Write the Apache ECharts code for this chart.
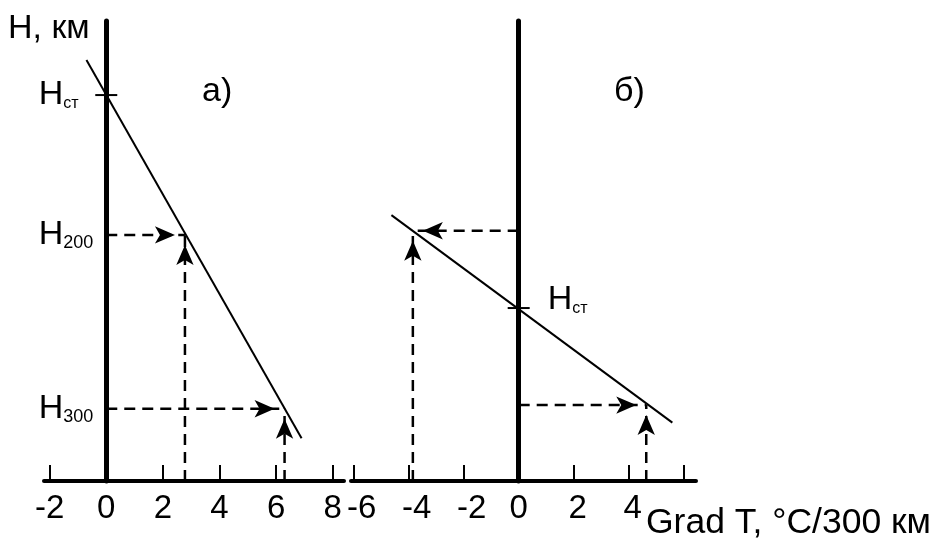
<!DOCTYPE html>
<html>
<head>
<meta charset="utf-8">
<script src="https://cdn.jsdelivr.net/npm/echarts@6/dist/echarts.min.js"></script>
<style>
  html, body { margin: 0; padding: 0; background: #fff; }
  #chart { width: 937px; height: 540px; }
</style>
</head>
<body>
<div id="chart"></div>
<script>
// Panel а): the height/gradient line and its reading points
const lineA = [[-0.70, 9.15], [6.90, 0.93]];
const hStA = 8.39;
const h200A = [2.78, 5.35];
const h300A = [6.30, 1.57];

// Panel б)
const lineB = [[-4.63, 5.78], [5.59, 1.27]];
const hStB = 3.76;
const upperB = [-3.85, 5.44];
const lowerB = [4.64, 1.65];

// Axis ticks and labels
const ticksA = [-2, 0, 2, 4, 6, 8];
const ticksB = [-6, -4, -2, 0, 2, 4, 6];
const labelsB = [-6, -4, -2, 0, 2, 4];
const levelValuesA = [hStA, h200A[1], h300A[1]];
const levelSubsA = ['ст', '200', '300'];

const FONT = '"Liberation Sans", Arial, sans-serif';
const BLACK = '#000';

const rich = {
  h:  { fontSize: 34, lineHeight: 34, fontFamily: FONT, color: BLACK },
  st: { fontSize: 16, lineHeight: 10, verticalAlign: 'bottom', fontFamily: FONT, color: BLACK },
  n:  { fontSize: 18, lineHeight: 8, verticalAlign: 'bottom', fontFamily: FONT, color: BLACK }
};

// Arrow head sits with its tip exactly on the end point
const ARW = 13, ARH = 20;
const arrowDirs = {
  right: { rot: -90, off: [-ARH / 2, 0] },
  left:  { rot: 90,  off: [ARH / 2, 0] },
  up:    { rot: 0,   off: [0, ARH / 2] }
};

function dashedArrow(from, to, dir, idx) {
  const d = arrowDirs[dir];
  return {
    type: 'line',
    xAxisIndex: idx, yAxisIndex: idx,
    data: [
      { value: from, symbol: 'none' },
      { value: to, symbolRotate: d.rot, symbolOffset: d.off }
    ],
    symbol: 'arrow',
    symbolSize: [ARW, ARH],
    showSymbol: true,
    lineStyle: { color: BLACK, width: 2.5, type: [11, 7] },
    itemStyle: { color: BLACK, opacity: 1 },
    silent: true,
    clip: false,
    z: 4
  };
}

function slopeLine(data, idx) {
  return {
    type: 'line', xAxisIndex: idx, yAxisIndex: idx,
    data: data, symbol: 'none',
    lineStyle: { color: BLACK, width: 2 },
    silent: true, clip: false, z: 3
  };
}

function crossTick(y, idx) {
  return {
    type: 'scatter', xAxisIndex: idx, yAxisIndex: idx,
    data: [[0, y]], symbol: 'rect', symbolSize: [22, 2],
    itemStyle: { color: BLACK, opacity: 1 }, silent: true, z: 5
  };
}

// Height level names (H with subscript) placed beside the vertical axis
function levelLabels(points, idx, position, align, distance, offset) {
  return {
    type: 'scatter', xAxisIndex: idx, yAxisIndex: idx,
    data: points.map(p => ({ value: [0, p.y], name: p.sub })),
    symbolSize: 1,
    itemStyle: { color: 'rgba(0,0,0,0)', opacity: 1 },
    silent: true, z: 6,
    label: {
      show: true, position: position, align: align,
      distance: distance, offset: offset, color: BLACK, opacity: 1,
      formatter: p => '{h|H}{' + (p.name === 'ст' ? 'st' : 'n') + '|' + p.name + '}',
      rich: rich
    }
  };
}

function xAxisCfg(idx, min, max, ticks, labels, labelFormatter, labelRich) {
  return {
    type: 'value', gridIndex: idx, min: min, max: max,
    axisLine: { onZero: false, lineStyle: { color: BLACK, width: 4 } },
    axisTick: { show: true, inside: true, length: 16, customValues: ticks,
                lineStyle: { color: BLACK, width: 2 } },
    axisLabel: { show: true, customValues: labels, margin: 11,
                 fontSize: 33, fontFamily: FONT, color: BLACK,
                 formatter: labelFormatter, rich: labelRich },
    splitLine: { show: false }
  };
}

function yAxisCfg(idx) {
  return {
    type: 'value', gridIndex: idx, min: 0, max: 10,
    axisLine: { onZero: true, lineStyle: { color: BLACK, width: 5 } },
    axisTick: { show: false },
    axisLabel: { show: false },
    splitLine: { show: false }
  };
}

// Right-panel tick numbers sit a little right of their ticks
const tickRichB = {
  neg:  { fontSize: 33, fontFamily: FONT, color: BLACK, padding: [0, 0, 0, 16] },
  pos:  { fontSize: 33, fontFamily: FONT, color: BLACK, padding: [0, 0, 0, 8] },
  zero: { fontSize: 33, fontFamily: FONT, color: BLACK }
};
const tickFmtB = v => (v < 0 ? '{neg|' : v > 0 ? '{pos|' : '{zero|') + v + '}';

const titleStyle = { fontSize: 34, fontWeight: 'normal', fontFamily: FONT, color: BLACK };

const option = {
  backgroundColor: '#fff',
  animation: false,
  title: [
    { text: 'H, км', left: 8, top: 11.5, padding: 0, textStyle: titleStyle },
    { text: 'а)', left: 202, top: 75, padding: 0, textStyle: titleStyle },
    { text: 'б)', left: 614, top: 75, padding: 0, textStyle: titleStyle },
    { text: 'Grad T, °C/300 км', left: 646, top: 505,
      padding: 0, textStyle: Object.assign({}, titleStyle, { fontSize: 35.5 }) }
  ],
  grid: [
    { left: 44, top: 21, width: 300, height: 460, outerBoundsMode: 'none', containLabel: false },
    { left: 351, top: 21, width: 345, height: 460, outerBoundsMode: 'none', containLabel: false }
  ],
  xAxis: [
    xAxisCfg(0, -2.2, 8.4, ticksA, ticksA),
    xAxisCfg(1, -6.1, 6.45, ticksB, labelsB, tickFmtB, tickRichB)
  ],
  yAxis: [yAxisCfg(0), yAxisCfg(1)],
  series: [
    slopeLine(lineA, 0),
    dashedArrow([0, h200A[1]], h200A, 'right', 0),
    dashedArrow([h200A[0], 0], h200A, 'up', 0),
    dashedArrow([0, h300A[1]], h300A, 'right', 0),
    dashedArrow([h300A[0], 0], h300A, 'up', 0),
    crossTick(hStA, 0),
    levelLabels(levelValuesA.map((y, i) => ({ y: y, sub: levelSubsA[i] })),
                0, 'left', 'left', 67, [0, 0]),

    slopeLine(lineB, 1),
    dashedArrow([0, upperB[1]], upperB, 'left', 1),
    dashedArrow([upperB[0], 0], upperB, 'up', 1),
    dashedArrow([0, lowerB[1]], lowerB, 'right', 1),
    dashedArrow([lowerB[0], 0], lowerB, 'up', 1),
    crossTick(hStB, 1),
    levelLabels([{ y: hStB, sub: 'ст' }], 1, 'right', 'left', 28.5, [0, -8])
  ]
};

const chart = echarts.init(document.getElementById('chart'), null, { renderer: 'canvas' });
chart.setOption(option);
</script>
</body>
</html>
